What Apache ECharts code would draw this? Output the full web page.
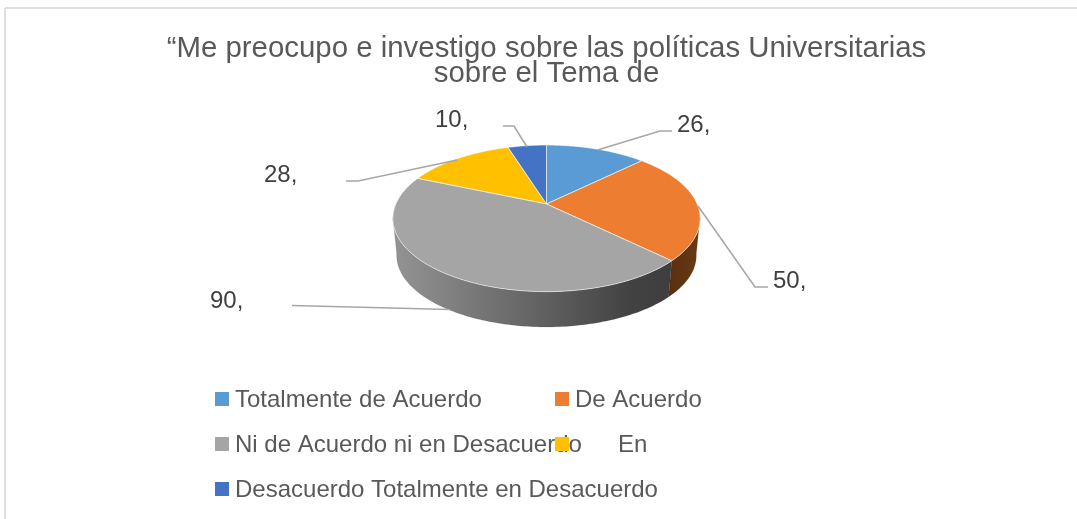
<!DOCTYPE html>
<html>
<head>
<meta charset="utf-8">
<style>html,body{margin:0;padding:0;background:#fff}#c{width:1077px;height:519px}</style>
<script src="https://cdn.jsdelivr.net/npm/echarts@6/dist/echarts.min.js"></script>
</head>
<body>
<div id="c"></div>
<script>
const categories = ['Totalmente de Acuerdo','De Acuerdo','Ni de Acuerdo ni en Desacuerdo','En','Desacuerdo Totalmente en Desacuerdo'];
const values = [26,50,90,28,10];
const valueLabels = ['26,','50,','90,','28,','10,'];
const colors = ['#5B9BD5','#ED7D31','#A5A5A5','#FFC000','#4472C4'];
const titleText = '\u201CMe preocupo e investigo sobre las políticas Universitarias\nsobre el Tema de';

// layout only
const FONT = '"Liberation Sans", Arial, sans-serif';
const PIE = {cx:546.5, cy:204, a:150.7, b:70.5, k:0.1956, depth:37.5, shrink:0.975};
const leaders = [
  [[597.5,150],[660,131],[672,131]],
  [[698,206],[755,287],[768,287]],
  [[450,309.5],[292,305.5]],
  [[457,160],[358,181],[346,181]],
  [[527,147],[514,126],[503,126]]
];
const labelPos = [[677,125],[773,281],[210,301],[264,175],[435,120]];
const legendPos = [[215,388],[555,388],[215,433],[555,433],[215,478]];

const total = values.reduce((s,v)=>s+v,0);
function project(deg){
  const t = deg*Math.PI/180, u = Math.sin(t), v = -Math.cos(t), d = 1-PIE.k*v;
  return [PIE.cx+PIE.a*u/d, PIE.cy+PIE.b*v/d];
}
function lower(p){
  return [PIE.cx+PIE.shrink*(p[0]-PIE.cx), PIE.cy+PIE.depth+PIE.shrink*(p[1]-PIE.cy)];
}
function arc(d0,d1){
  const pts=[], n=Math.max(2,Math.ceil(Math.abs(d1-d0)));
  for(let i=0;i<=n;i++) pts.push(project(d0+(d1-d0)*i/n));
  return pts;
}
const FRONT0 = 100, FRONT1 = 260;
function wallFill(i){
  if(i===1) return {type:'linear',global:true,x:670,y:0,x2:700,y2:0,colorStops:[{offset:0,color:'#59300f'},{offset:1,color:'#6a3a14'}]};
  return {type:'linear',global:true,x:395,y:0,x2:672,y2:0,colorStops:[{offset:0,color:'#939393'},{offset:.5,color:'#646464'},{offset:.85,color:'#424242'},{offset:1,color:'#3e3e3e'}]};
}
function renderSlice(i){
  return function(params,api){
    const val = api.value(0);
    let before=0; for(let j=0;j<i;j++) before+=values[j];
    const d0 = before/total*360, d1 = (before+val)/total*360;
    const children=[];
    const w0=Math.max(d0,FRONT0), w1=Math.min(d1,FRONT1);
    if(w1>w0){
      const top=arc(w0,w1), bot=top.map(lower).reverse();
      children.push({type:'polygon',shape:{points:top.concat(bot)},style:{fill:wallFill(i),stroke:'rgba(60,40,20,0.25)',lineWidth:0.5}});
    }
    children.push({type:'polygon',shape:{points:[[PIE.cx,PIE.cy]].concat(arc(d0,d1))},
      style:{fill:colors[i],stroke:'rgba(255,255,255,0.6)',lineWidth:1}});
    children.push({type:'polyline',shape:{points:leaders[i]},style:{fill:null,stroke:'#a6a6a6',lineWidth:1.5}});
    children.push({type:'text',style:{text:valueLabels[i],x:labelPos[i][0],y:labelPos[i][1],font:'24px '+FONT,fill:'#404040',verticalAlign:'middle',align:'left'}});
    return {type:'group',children};
  };
}
const series = categories.map((name,i)=>({
  type:'custom',name,coordinateSystem:'none',silent:true,animation:false,clip:false,
  colorBy:'series',itemStyle:{color:colors[i]},
  z: i===2?3:2,
  renderItem:renderSlice(i),
  data:[[values[i]]]
}));
const legend = categories.map((name,i)=>({
  data:[name],left:legendPos[i][0],top:legendPos[i][1],padding:0,
  icon:'path://M0,0H14V14H0Z M0,16L0,16Z',itemWidth:14,itemHeight:16,itemGap:0,selectedMode:false,
  textStyle:{fontFamily:FONT,fontSize:24,color:'#595959',lineHeight:24,padding:i===3?[0,0,0,44]:[0,0,0,1]}
}));
const chart = echarts.init(document.getElementById('c'),null,{renderer:'canvas'});
chart.setOption({
  backgroundColor:'#fff',
  animation:false,
  title:{text:titleText,left:546.5,textAlign:'center',top:36,padding:0,
    textStyle:{fontFamily:FONT,fontSize:29.4,fontWeight:'normal',color:'#595959',lineHeight:25.5}},
  legend,
  series,
  graphic:[
    {type:'line',silent:true,shape:{x1:5,y1:8,x2:1077,y2:8},style:{stroke:'#dedede',lineWidth:2}},
    {type:'line',silent:true,shape:{x1:5,y1:8,x2:5,y2:519},style:{stroke:'#dedede',lineWidth:2}}
  ]
});
</script>
</body>
</html>
